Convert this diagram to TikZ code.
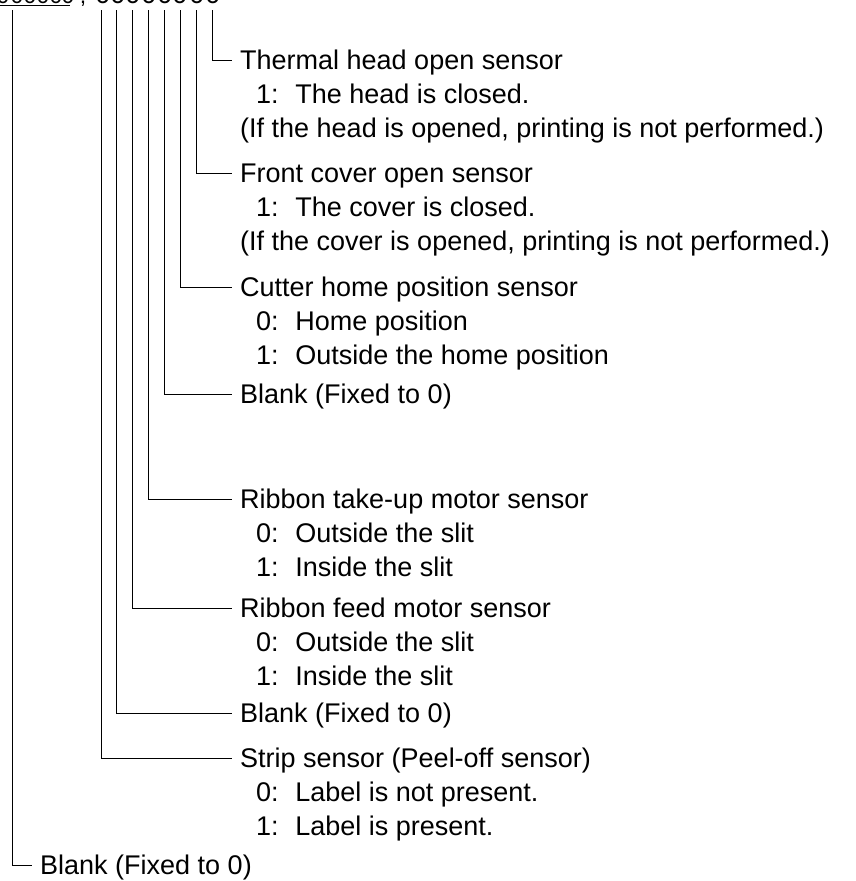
\documentclass[tikz,border=0pt]{standalone}
\usepackage{fontspec}
\setmainfont{Liberation Sans}
\begin{document}
\begin{tikzpicture}[x=1pt,y=-1pt,
  txt/.style={anchor=west,inner sep=0pt,text height=19.3pt,text depth=0pt,
    font=\fontsize{27}{32}\selectfont},
  digit/.style={anchor=base,inner sep=0pt,font=\fontsize{27}{32}\selectfont},
  digitsm/.style={anchor=base,inner sep=0pt,font=\fontsize{23}{28}\selectfont},
  leader/.style={draw=black,line width=0.9pt},
  lbl/.style={shorten >=9pt}]
\useasboundingbox (0,0) rectangle (856,881);
\newcommand{\lead}[1]{\makebox[1.45em][l]{#1}}
% clipped register digits at the top
\foreach \x/\n in {3/a1,17/a2,30/a3,43/a4,56/a5,68/a6}
  \node[digitsm] (\n) at (\x,3.5) {0};
\node[digitsm] (comma) at (83,3.5) {,};
\foreach \x/\n in {103/c1,118/c2,133/c3,149/c4,165/c5,180/c6,197/c7,213/c8}
  \node[digit] (\n) at (\x,3.5) {0};
\draw[line width=1.4pt] (0,5.5) -- (70,5.5);
% bit coordinates
\coordinate (bx) at (12,10);
\coordinate (b7) at (101,10);
\coordinate (b6) at (116,10);
\coordinate (b5) at (132,10);
\coordinate (b4) at (148,10);
\coordinate (b3) at (164,10);
\coordinate (b2) at (180,10);
\coordinate (b1) at (196,10);
\coordinate (b0) at (212,10);
% texts
\node[txt] (h0) at (240,60) {Thermal head open sensor};
\node[txt] (h0a) at (256,94) {\lead{1:}The head is closed.};
\node[txt] (h0b) at (240,128) {(If the head is opened, printing is not performed.)};
\node[txt] (h1) at (240,173) {Front cover open sensor};
\node[txt] (h1a) at (256,207) {\lead{1:}The cover is closed.};
\node[txt] (h1b) at (240,241) {(If the cover is opened, printing is not performed.)};
\node[txt] (h2) at (240,287) {Cutter home position sensor};
\node[txt] (h2a) at (256,321) {\lead{0:}Home position};
\node[txt] (h2b) at (256,355) {\lead{1:}Outside the home position};
\node[txt] (h3) at (240,394) {Blank (Fixed to 0)};
\node[txt] (h4) at (240,499) {Ribbon take-up motor sensor};
\node[txt] (h4a) at (256,533) {\lead{0:}Outside the slit};
\node[txt] (h4b) at (256,567) {\lead{1:}Inside the slit};
\node[txt] (h5) at (240,608) {Ribbon feed motor sensor};
\node[txt] (h5a) at (256,642) {\lead{0:}Outside the slit};
\node[txt] (h5b) at (256,676) {\lead{1:}Inside the slit};
\node[txt] (h6) at (240,713) {Blank (Fixed to 0)};
\node[txt] (h7) at (240,758) {Strip sensor (Peel-off sensor)};
\node[txt] (h7a) at (256,792) {\lead{0:}Label is not present.};
\node[txt] (h7b) at (256,826) {\lead{1:}Label is present.};
\node[txt] (hx) at (40,865) {Blank (Fixed to 0)};
% leaders
\foreach \b/\h in {b0/h0,b1/h1,b2/h2,b3/h3,b4/h4,b5/h5,b6/h6,b7/h7,bx/hx}
  \draw[leader] (\b) |- ([xshift=-8pt]\h.west);
\end{tikzpicture}
\end{document}
